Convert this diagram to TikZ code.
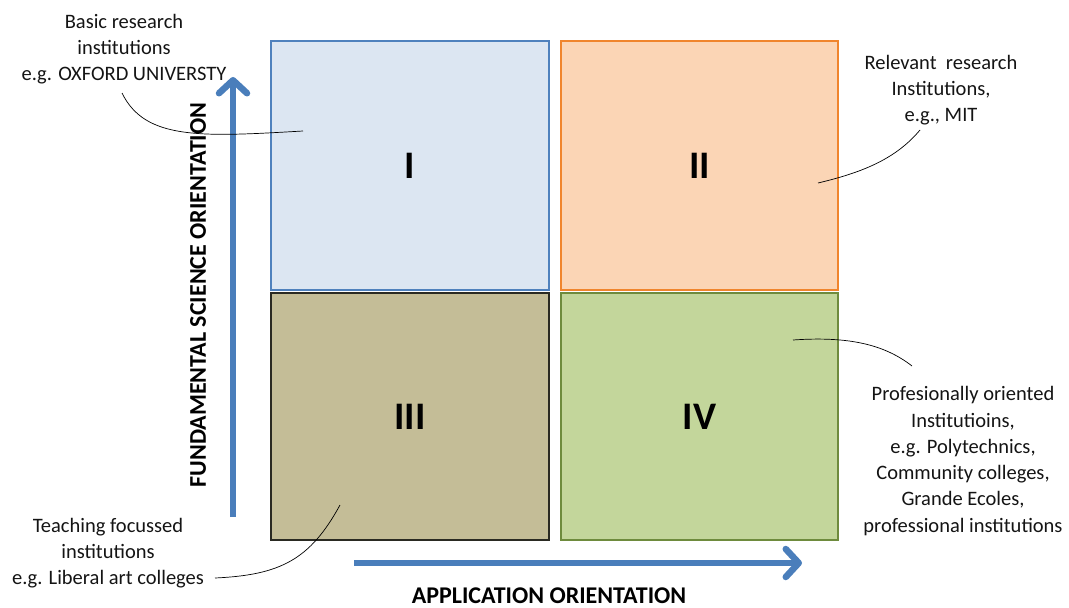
\documentclass[tikz,border=0pt]{standalone}
\usepackage{fontspec}
\setmainfont{Carlito}
\usetikzlibrary{arrows.meta}
\definecolor{axisblue}{HTML}{4A7EBB}
\definecolor{qIfill}{HTML}{DCE6F2}
\definecolor{qIdraw}{HTML}{4F81BD}
\definecolor{qIIfill}{HTML}{FBD5B5}
\definecolor{qIIdraw}{HTML}{F0852D}
\definecolor{qIIIfill}{HTML}{C4BD97}
\definecolor{qIIIdraw}{HTML}{2A2A22}
\definecolor{qIVfill}{HTML}{C3D69B}
\definecolor{qIVdraw}{HTML}{6E8B3D}
\definecolor{txt}{HTML}{141414}
\tikzset{
  quad/.style={rectangle, line width=2.4pt, inner sep=0pt,
    font=\fontsize{39}{39}\selectfont\bfseries, text=black},
  note/.style={align=center, inner sep=0pt, text=txt,
    font=\fontsize{20.5}{26.3}\selectfont},
  axislabel/.style={inner sep=0pt, text=black,
    font=\fontsize{24}{28}\selectfont\bfseries},
  axisarrow/.style={draw=axisblue, line width=6.5pt,
    -{Straight Barb[length=13pt, width=28pt, round]}},
  leader/.style={draw=black, line width=0.7pt}
}
\begin{document}
\begin{tikzpicture}[x=1pt, y=-1pt]
\useasboundingbox (0,0) rectangle (1069,608);

% the four quadrants
\node[quad, fill=qIfill, draw=qIdraw, minimum width=278pt, minimum height=249pt] (q1) at (410,165.5) {I};
\node[quad, fill=qIIfill, draw=qIIdraw, minimum width=277pt, minimum height=249pt] (q2) at (699.5,165.5) {II};
\node[quad, fill=qIIIfill, draw=qIIIdraw, minimum width=278pt, minimum height=247pt] (q3) at (410,416.5) {III};
\node[quad, fill=qIVfill, draw=qIVdraw, minimum width=277pt, minimum height=247pt] (q4) at (699.5,416.5) {IV};

% axes
\coordinate (vtail) at (233,517);
\coordinate (vhead) at (233,77);
\coordinate (htail) at (354,563);
\coordinate (hhead) at (802,563);
\draw[axisarrow] (vtail) -- (vhead);
\draw[axisarrow] (htail) -- (hhead);
\node[axislabel, rotate=90] (ylab) at (198,295) {FUNDAMENTAL SCIENCE ORIENTATION};
\node[axislabel] (xlab) at (549,596) {APPLICATION ORIENTATION};

% annotations
\node[note] (n1) at (124,49) {Basic research\\institutions\\e.g. OXFORD UNIVERSTY};
\node[note] (n2) at (941,90) {Relevant\ \ research\\Institutions,\\e.g., MIT};
\node[note] (n4) at (963,461) {Profesionally oriented\\Institutioins,\\e.g. Polytechnics,\\Community colleges,\\Grande Ecoles,\\professional institutions};
\node[note] (n3) at (108,553) {Teaching focussed\\institutions\\e.g. Liberal art colleges};

% leader lines
\coordinate (l1a) at (122,93);
\coordinate (l1b) at (303,131);
\coordinate (l2a) at (920,130);
\coordinate (l2b) at (818,183);
\coordinate (l3a) at (215,578);
\coordinate (l3b) at (340,505);
\coordinate (l4a) at (912,366);
\coordinate (l4b) at (793,340);
\draw[leader] (l1a) .. controls (145,140) and (200,137) .. (l1b);
\draw[leader] (l2a) .. controls (895,160) and (860,173) .. (l2b);
\draw[leader] (l3a) .. controls (280,575) and (310,560) .. (l3b);
\draw[leader] (l4a) .. controls (885,345) and (850,336) .. (l4b);
\end{tikzpicture}
\end{document}
